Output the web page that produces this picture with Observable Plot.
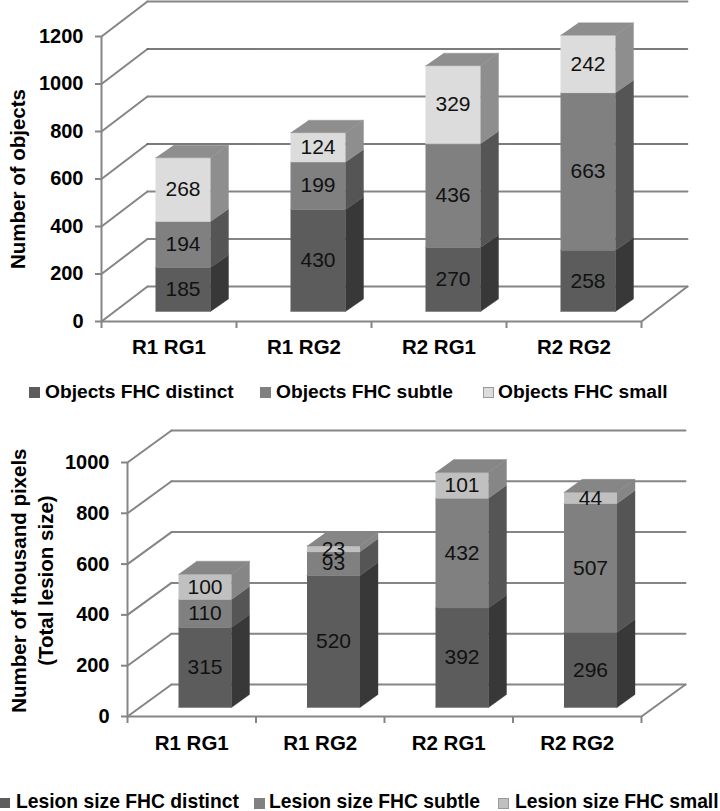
<!DOCTYPE html>
<html>
<head>
<meta charset="utf-8">
<script src="https://cdn.jsdelivr.net/npm/d3@7"></script>
<script src="https://cdn.jsdelivr.net/npm/@observablehq/plot@0.6"></script>
<style>
html,body{margin:0;padding:0;background:#fff;width:720px;overflow:hidden}
svg{display:block}
.legend{position:relative;font-family:"Liberation Sans",Arial,sans-serif;font-weight:bold;color:#000;white-space:nowrap;line-height:18px}
.legend span{position:absolute}
.legend i{position:absolute;display:block;box-sizing:border-box}
</style>
</head>
<body>
<div id="app"></div>
<script>
const categories = ["R1 RG1", "R1 RG2", "R2 RG1", "R2 RG2"];

const objectSeriesNames = ["Objects FHC distinct", "Objects FHC subtle", "Objects FHC small"];
const objectsDistinct = [185, 430, 270, 258];
const objectsSubtle = [194, 199, 436, 663];
const objectsSmall = [268, 124, 329, 242];
const objectTicks = [0, 200, 400, 600, 800, 1000, 1200];

const lesionSeriesNames = ["Lesion size FHC distinct", "Lesion size FHC subtle", "Lesion size FHC small"];
const lesionDistinct = [315, 520, 392, 296];
const lesionSubtle = [110, 93, 432, 507];
const lesionSmall = [100, 23, 101, 44];
const lesionTicks = [0, 200, 400, 600, 800, 1000];

const FONT = '"Liberation Sans", Arial, sans-serif';
const GRID = "#858585";

function chart(cfg) {
  const pxX = (cfg.width - cfg.marginLeft - cfg.marginRight) / 4;
  const pxY = (cfg.height - cfg.marginTop - cfg.marginBottom) / cfg.yMax;
  const ux = (p) => p / pxX;   // pixels to x units
  const uy = (p) => p / pxY;   // pixels to y units
  const wallX = ux(cfg.wall[0]), wallY = uy(cfg.wall[1]);
  const bx0 = ux(cfg.barLeft), bw = ux(cfg.barWidth), bb = uy(cfg.barBase);
  const dx = ux(cfg.barDepth[0]), dy = uy(cfg.barDepth[1]);

  // walls
  const diagonals = cfg.ticks.flatMap((t) => [
    {id: t, x: 0, y: t}, {id: t, x: wallX, y: t + wallY}
  ]);
  const backLines = cfg.ticks.map((t) => ({t, y: t + wallY, c: cfg.darkLines.includes(t) ? "#505050" : GRID, w: cfg.darkLines.includes(t) ? 1.5 : 2}));
  const floor = [{x: 0, y: 0}, {x: 4, y: 0}, {x: 4 + wallX, y: wallY}];

  // stacked boxes
  const faces = [], labels = [];
  categories.forEach((cat, i) => {
    let base = 0;
    const L = i + bx0, R = L + bw;
    cfg.series.forEach((vals, s) => {
      const v = vals[i], y0 = bb + base, y1 = y0 + v;
      const poly = (name, c, pts) => pts.forEach(([x, y]) => faces.push({id: `${i}-${s}-${name}`, x, y, c}));
      poly("front", cfg.front[s], [[L, y0], [R, y0], [R, y1], [L, y1]]);
      poly("side", cfg.side[s], [[R, y0], [R + dx, y0 + dy], [R + dx, y1 + dy], [R, y1]]);
      labels.push({x: (L + R) / 2, y: (y0 + y1) / 2, t: String(v)});
      base += v;
    });
    const yt = bb + base;
    const top = [[L, yt], [R, yt], [R + dx, yt + dy], [L + dx, yt + dy]];
    top.forEach(([x, y]) => faces.push({id: `${i}-top`, x, y, c: cfg.topColor}));
  });

  return Plot.plot({
    width: cfg.width, height: cfg.height,
    marginLeft: cfg.marginLeft, marginRight: cfg.marginRight,
    marginTop: cfg.marginTop, marginBottom: cfg.marginBottom,
    style: {fontFamily: FONT, background: "transparent", overflow: "visible"},
    x: {domain: [0, 4]},
    y: {domain: [0, cfg.yMax]},
    color: {type: "identity"},
    marks: [
      Plot.line(diagonals, {x: "x", y: "y", z: "id", stroke: GRID, strokeWidth: 2, curve: "linear"}),
      ...backLines.map((b) => Plot.line([{x: wallX, y: b.y}, {x: 4 + wallX, y: b.y}], {x: "x", y: "y", stroke: b.c, strokeWidth: b.w, curve: "linear"})),
      Plot.line(floor, {x: "x", y: "y", stroke: GRID, strokeWidth: 2, curve: "linear"}),
      Plot.ruleX([0], {y1: 0, y2: cfg.yMax, stroke: GRID, strokeWidth: 2}),
      Plot.axisY({
        ticks: cfg.ticks, tickSize: 6, tickPadding: 12, stroke: GRID, strokeWidth: 2, strokeOpacity: 1,
        fontSize: cfg.tickFont, fontWeight: "bold", fill: "#000", label: null, tickFormat: (d) => String(d)
      }),
      Plot.axisX({
        ticks: [0, 1, 2, 3, 4], tickSize: 7, stroke: GRID, strokeWidth: 2, strokeOpacity: 1,
        tickFormat: null, label: null, text: null
      }),
      Plot.axisX({
        ticks: [0.5, 1.5, 2.5, 3.5], tickSize: 0, tickPadding: cfg.catPad,
        fontSize: cfg.catFont, fontWeight: "bold", fill: "#000", label: null,
        tickFormat: (d) => categories[Math.floor(d)]
      }),
      Plot.line(faces, {x: "x", y: "y", z: "id", fill: "c", stroke: "c", strokeWidth: 0.4, curve: "linear"}),
      Plot.text(labels, {x: "x", y: "y", text: "t", fontSize: cfg.valueFont, fill: "#111", stroke: "none"}),
      ...cfg.titles.map((tt) => Plot.text([tt.text], {
        x: 0, y: tt.at, dx: tt.dx, rotate: -90, text: (d) => d,
        fontSize: cfg.titleFont, fontWeight: "bold", fill: "#000"
      }))
    ]
  });
}

function legend(names, colors, items, height, fontSize, spacing) {
  const box = document.createElement("div");
  box.className = "legend";
  box.style.height = height + "px";
  box.style.fontSize = fontSize + "px";
  names.forEach((name, k) => {
    const sq = document.createElement("i");
    sq.style.cssText = `left:${items[k].sq}px;top:${items[k].sy}px;width:${items[k].ss}px;height:${items[k].ss}px;background:${colors[k]};` + (k === 2 ? "border:1px solid #999;" : "");
    const sp = document.createElement("span");
    sp.textContent = name;
    sp.style.cssText = `left:${items[k].tx}px;top:${items[k].ty}px;letter-spacing:${spacing}px;`;
    box.append(sq, sp);
  });
  return box;
}

const app = document.getElementById("app");

app.append(chart({
  width: 720, height: 370, marginLeft: 101, marginRight: 79, marginTop: 36, marginBottom: 49,
  yMax: 1200, ticks: objectTicks, darkLines: [1000, 600],
  wall: [46, 35], barLeft: 54, barWidth: 55, barBase: 10, barDepth: [18, 12.5],
  series: [objectsDistinct, objectsSubtle, objectsSmall],
  front: ["#5c5c5c", "#808080", "#dcdcdc"],
  side: ["#383838", "#555555", "#8e8e8e"],
  topColor: "#8e8e8e",
  tickFont: 20, catFont: 20.5, valueFont: 21, titleFont: 20.5,
  catPad: 18,
  titles: [{text: "Number of objects", at: 600, dx: -83}]
}));

app.append(legend(objectSeriesNames, ["#5c5c5c", "#808080", "#dcdcdc"], [
  {sq: 29, sy: 17, ss: 11, tx: 45, ty: 13},
  {sq: 260, sy: 17, ss: 11, tx: 276, ty: 13},
  {sq: 483, sy: 17, ss: 11, tx: 498, ty: 13}
], 40, 19.2, 0));

app.append(chart({
  width: 720, height: 370, marginLeft: 127, marginRight: 79, marginTop: 52, marginBottom: 64,
  yMax: 1000, ticks: lesionTicks, darkLines: [],
  wall: [44, 32], barLeft: 51, barWidth: 53, barBase: 9, barDepth: [18, 13],
  series: [lesionDistinct, lesionSubtle, lesionSmall],
  front: ["#5c5c5c", "#808080", "#c0c0c0"],
  side: ["#383838", "#555555", "#868686"],
  topColor: "#868686",
  tickFont: 20, catFont: 20.5, valueFont: 21, titleFont: 20.5,
  catPad: 19,
  titles: [
    {text: "Number of thousand pixels", at: 535, dx: -108},
    {text: "(Total lesion size)", at: 535, dx: -81}
  ]
}));

app.append(legend(lesionSeriesNames, ["#5c5c5c", "#808080", "#c0c0c0"], [
  {sq: 0, sy: 18, ss: 10, tx: 16, ty: 13},
  {sq: 254, sy: 18, ss: 11, tx: 269, ty: 13},
  {sq: 498, sy: 18, ss: 11, tx: 515, ty: 13}
], 31, 19.3, 0));
</script>
</body>
</html>
